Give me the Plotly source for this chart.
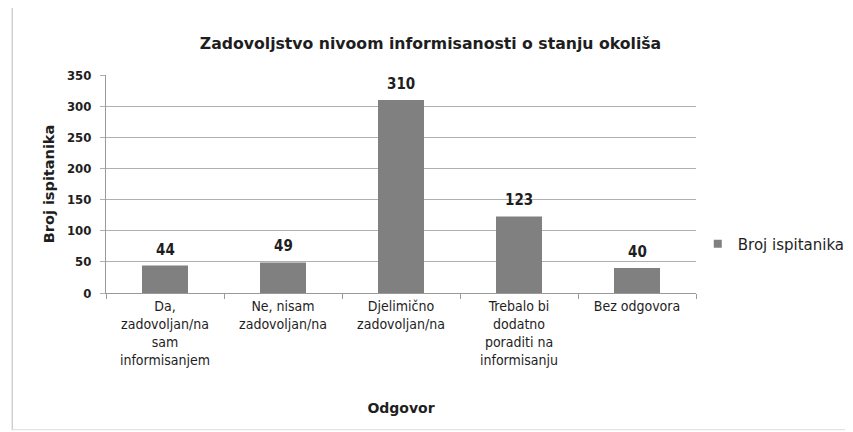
import plotly.graph_objects as go

categories = ["Da, zadovoljan/na sam informisanjem", "Ne, nisam zadovoljan/na",
              "Djelimično zadovoljan/na", "Trebalo bi dodatno poraditi na informisanju",
              "Bez odgovora"]
tick_labels = ["Da,<br>zadovoljan/na<br>sam<br>informisanjem", "Ne, nisam<br>zadovoljan/na",
               "Djelimično<br>zadovoljan/na", "Trebalo bi<br>dodatno<br>poraditi na<br>informisanju",
               "Bez odgovora"]
values = [44, 49, 310, 123, 40]
series_name = "Broj ispitanika"
y_ticks = [0, 50, 100, 150, 200, 250, 300, 350]

FONT = "DejaVu Sans Condensed, Liberation Sans Narrow, DejaVu Sans, sans-serif"
WIDE = "DejaVu Sans, sans-serif"
BAR = "#808080"
TXT = "#1e1e1e"

# page body has an 8px default margin, so the figure is sized to the remaining window
W, H = 845, 424

fig = go.Figure()
fig.add_trace(go.Bar(
    x=categories, y=values, name=series_name,
    marker=dict(color=BAR, line=dict(width=0)),
    width=0.39, showlegend=False,
))
# legend entry with a small square marker
fig.add_trace(go.Scatter(
    x=[None], y=[None], mode="markers", name=series_name,
    marker=dict(symbol="square", size=8, color=BAR),
    showlegend=True,
))
for c, v in zip(categories, values):
    fig.add_annotation(x=c, y=v, text=f"<b>{v}</b>", showarrow=False,
                       yanchor="bottom", yshift=5,
                       font=dict(size=15, color=TXT, family=FONT))

fig.update_layout(
    width=W, height=H,
    margin=dict(l=98, r=157, t=67, b=139, autoexpand=False),
    paper_bgcolor="white", plot_bgcolor="white",
    font=dict(family=FONT, color=TXT, size=13),
    title=dict(text="<b>Zadovoljstvo nivoom informisanosti o stanju okoliša</b>",
               x=0.5, xanchor="center", y=0.917, yanchor="middle",
               font=dict(size=15.7, color=TXT, family=WIDE)),
    showlegend=True,
    legend=dict(x=1.003, xanchor="left", y=0.225, yanchor="middle",
                font=dict(size=15, color=TXT, family=WIDE),
                itemwidth=30, bgcolor="rgba(0,0,0,0)"),
    bargap=0.61,
)
fig.update_xaxes(
    automargin=False,
    tickmode="array", tickvals=categories, ticktext=tick_labels,
    tickfont=dict(size=14, color=TXT, family=FONT),
    showline=True, linecolor="#9a9a9a", linewidth=1,
    ticks="outside", tickson="boundaries", ticklen=5, tickcolor="#9a9a9a",
    title=dict(text="<b>Odgovor</b>", font=dict(size=14, color=TXT, family=WIDE), standoff=35),
    showgrid=False,
)
fig.update_yaxes(
    automargin=False,
    range=[0, 350], tickmode="array", tickvals=y_ticks,
    ticktext=[f"<b>{t}</b>" for t in y_ticks],
    tickfont=dict(size=13, color=TXT, family=FONT),
    showgrid=True, gridcolor="#b0b0b0", gridwidth=1,
    showline=True, linecolor="#9a9a9a", linewidth=1,
    ticks="outside", ticklen=5, tickcolor="#b0b0b0", ticklabelstandoff=6,
    title=dict(text="<b>Broj ispitanika</b>", font=dict(size=14.5, color=TXT, family=WIDE), standoff=8),
    zeroline=False,
)
# chart border (scanned frame)
fig.add_shape(type="line", xref="paper", yref="paper",
              x0=-0.159, x1=-0.159, y0=-0.63, y1=1.35,
              line=dict(color="#bbb", width=1))
fig.add_shape(type="line", xref="paper", yref="paper",
              x0=-0.159, x1=1.26, y0=-0.627, y1=-0.627,
              line=dict(color="#ddd", width=1))

fig.write_html("out.html")
